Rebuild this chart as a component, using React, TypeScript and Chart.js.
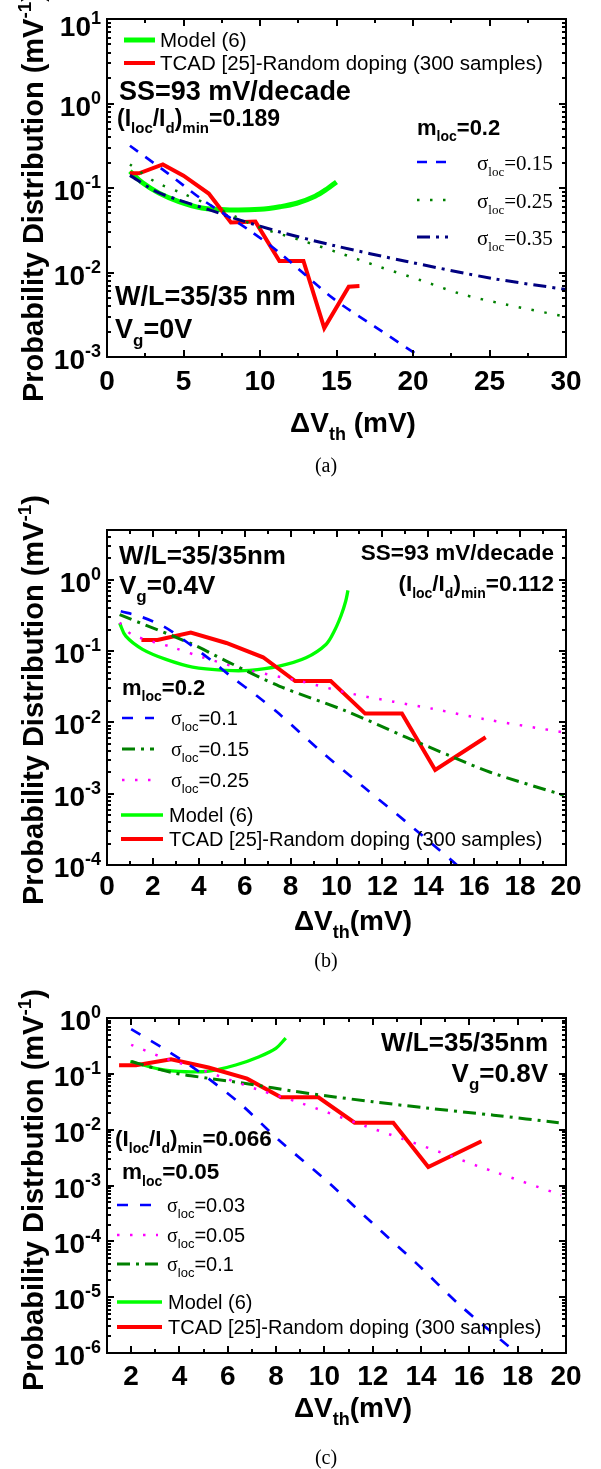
import React, { useEffect, useRef } from 'react';
import { Chart, registerables } from 'chart.js';
Chart.register(...registerables);

// ---------------- DATA ----------------
// Panel (a)
const tcadAX = [1.5, 2.1, 3.65, 5.0, 6.65, 8.1, 9.7, 11.27, 12.84, 14.2, 15.8, 16.5];
const tcadAY = [0.149, 0.149, 0.19, 0.14, 0.086, 0.039, 0.04, 0.0137, 0.0137, 0.0022, 0.0068, 0.0069];
const modelAX = [1.5, 2.3, 3.4, 4.7, 6.2, 8.2, 10.0, 11.3, 12.4, 13.6, 14.4, 15.0];
const modelAY = [0.158, 0.116, 0.087, 0.069, 0.058, 0.055, 0.056, 0.06, 0.066, 0.08, 0.098, 0.118];
const sigA015X = [1.5, 4.0, 6.25, 9.3, 11.3, 14.8, 17.5, 20.5, 21.5];
const sigA015Y = [0.316, 0.148, 0.0724, 0.0316, 0.017, 0.0049, 0.00229, 0.001, 0.00076];
const sigA025X = [1.5, 3.2, 4.9, 6.7, 8.4, 10.0, 12.6, 15.2, 17.8, 20.5, 23.1, 26.0, 30.0];
const sigA025Y = [0.19, 0.117, 0.087, 0.063, 0.0457, 0.0339, 0.0243, 0.017, 0.0117, 0.0081, 0.0056, 0.0042, 0.003];
const sigA035X = [1.5, 3.2, 4.7, 6.7, 8.7, 11.3, 14.8, 19.6, 25.2, 30.0];
const sigA035Y = [0.141, 0.091, 0.072, 0.055, 0.0417, 0.0302, 0.0209, 0.0135, 0.0085, 0.0063];

// Panels (b) and (c) TCAD
const tcadX = [1.5, 2.2, 3.65, 5.2, 6.8, 8.2, 9.75, 11.25, 12.85, 14.3, 16.5];
const tcadY = [0.143, 0.143, 0.182, 0.13, 0.082, 0.038, 0.038, 0.0133, 0.0133, 0.00215, 0.0062];

// Panel (b)
const modelBX = [0.55, 0.82, 1.55, 2.57, 3.73, 5.18, 6.2, 7.5, 8.67, 9.54, 9.9, 10.2, 10.4, 10.5];
const modelBY = [0.248, 0.162, 0.106, 0.0766, 0.0598, 0.0537, 0.0537, 0.0617, 0.0807, 0.124, 0.19, 0.316, 0.5, 0.71];
const sigB01X = [0.6, 1.5, 2.5, 3.5, 4.5, 5.5, 6.5, 7.5, 9.3, 11.2, 13.05, 15.0, 15.6];
const sigB01Y = [0.363, 0.302, 0.219, 0.132, 0.0759, 0.0417, 0.024, 0.0132, 0.00398, 0.00123, 0.000398, 0.000117, 0.0000794];
const sigB015X = [0.55, 3.7, 5.2, 7.5, 10.4, 13.05, 15.1, 16.7, 19.9];
const sigB015Y = [0.324, 0.126, 0.0724, 0.0324, 0.0145, 0.00617, 0.00324, 0.002, 0.00095];
const sigB025X = [0.55, 1.1, 2.9, 4.2, 6.05, 8.4, 10.7, 12.5, 14.2, 16.4, 19.9];
const sigB025Y = [0.251, 0.17, 0.112, 0.0813, 0.055, 0.038, 0.0251, 0.0195, 0.0155, 0.0112, 0.00724];

// Panel (c)
const modelCX = [1.96, 3.16, 4.26, 5.23, 6.33, 7.3, 7.99, 8.4];
const modelCY = [0.166, 0.122, 0.109, 0.112, 0.144, 0.203, 0.286, 0.436];
const sigC003X = [2.0, 3.2, 4.8, 6.5, 8.1, 10.2, 12.0, 13.8, 15.6, 17.65];
const sigC003Y = [0.631, 0.309, 0.11, 0.0295, 0.0066, 0.0011, 0.000209, 0.0000407, 0.00000724, 0.00000129];
const sigC005X = [2.0, 3.4, 4.7, 7.3, 9.0, 11.6, 13.2, 14.9, 16.4, 17.0, 19.8];
const sigC005Y = [0.331, 0.19, 0.126, 0.0513, 0.0302, 0.012, 0.00692, 0.0038, 0.00219, 0.00178, 0.000676];
const sigC01X = [2.0, 3.7, 5.2, 7.0, 8.7, 10.2, 12.0, 14.2, 17.0, 19.7];
const sigC01Y = [0.166, 0.105, 0.0832, 0.0646, 0.049, 0.0398, 0.0316, 0.0245, 0.0182, 0.0133];

// Tick labels
const xTicksA = [0, 5, 10, 15, 20, 25, 30];
const xTicksB = [0, 2, 4, 6, 8, 10, 12, 14, 16, 18, 20];
const xTicksC = [2, 4, 6, 8, 10, 12, 14, 16, 18, 20];
const yExpA = [1, 0, -1, -2, -3];
const yExpB = [0, -1, -2, -3, -4];
const yExpC = [0, -1, -2, -3, -4, -5, -6];

// ---------------- STYLES ----------------
const SANS = "'Liberation Sans', Arial, sans-serif";
const SERIF = "'Liberation Serif', 'Times New Roman', serif";
type Sty = { color: string; width: number; dash: number[]; tension: number };
const S_TCAD: Sty = { color: '#ff0000', width: 4, dash: [], tension: 0 };
const S_MODEL_A: Sty = { color: '#00ff00', width: 5, dash: [], tension: 0.35 };
const S_MODEL: Sty = { color: '#00ff00', width: 3.3, dash: [], tension: 0.35 };
const S_DASH_BLUE: Sty = { color: '#0000ff', width: 2.7, dash: [10, 9], tension: 0.3 };
const S_DASH_BLUE2: Sty = { color: '#0000ff', width: 2.7, dash: [11, 12], tension: 0.3 };
const S_DOT_GREEN: Sty = { color: '#008000', width: 2.5, dash: [2.5, 10.5], tension: 0.3 };
const S_DOT_MAG: Sty = { color: '#ff00ff', width: 2.5, dash: [2.5, 10.5], tension: 0.3 };
const S_DD_NAVY: Sty = { color: '#000080', width: 3, dash: [13, 6, 3, 6], tension: 0.3 };
const S_DD_GREEN: Sty = { color: '#008000', width: 3, dash: [13, 6, 3, 6], tension: 0.3 };

// ---------------- RICH TEXT ----------------
type Seg = { t: string; k: 'n' | 'sub' | 'sup' | 'serif' };
function parseRich(s: string): Seg[] {
  const segs: Seg[] = [];
  let i = 0;
  let buf = '';
  while (i < s.length) {
    const c = s[i];
    if ((c === '_' || c === '^' || c === '~') && s[i + 1] === '{') {
      if (buf) { segs.push({ t: buf, k: 'n' }); buf = ''; }
      const end = s.indexOf('}', i + 2);
      segs.push({ t: s.slice(i + 2, end), k: c === '_' ? 'sub' : c === '^' ? 'sup' : 'serif' });
      i = end + 1;
    } else { buf += c; i++; }
  }
  if (buf) segs.push({ t: buf, k: 'n' });
  return segs;
}
type TOpt = { size: number; bold?: boolean; family?: string; align?: 'left' | 'right' | 'center'; color?: string; sx?: number };
function drawRich(ctx: CanvasRenderingContext2D, s: string, x: number, cy: number, o: TOpt) {
  const segs = parseRich(s);
  const fam = o.family || SANS;
  const w = o.bold ? 'bold ' : '';
  const sx = o.sx || 1;
  const fontFor = (k: string) => {
    if (k === 'serif') return `${o.size}px ${SERIF}`;
    return `${w}${k === 'n' ? o.size : Math.round(o.size * 0.64)}px ${fam}`;
  };
  const widths: number[] = [];
  let total = 0;
  for (const seg of segs) {
    ctx.font = fontFor(seg.k);
    const m = ctx.measureText(seg.t).width;
    widths.push(m);
    total += m;
  }
  total *= sx;
  const align = o.align || 'left';
  let x0 = align === 'left' ? x : align === 'right' ? x - total : x - total / 2;
  const base = cy + 0.358 * o.size;
  ctx.save();
  ctx.fillStyle = o.color || '#000';
  ctx.textBaseline = 'alphabetic';
  ctx.textAlign = 'left';
  segs.forEach((seg, i) => {
    ctx.font = fontFor(seg.k);
    const dy = seg.k === 'sub' ? 0.3 * o.size : seg.k === 'sup' ? -0.42 * o.size : 0;
    ctx.save();
    ctx.translate(x0, base + dy);
    ctx.scale(sx, 1);
    ctx.fillText(seg.t, 0, 0);
    ctx.restore();
    x0 += widths[i] * sx;
  });
  ctx.restore();
}

// ---------------- PANELS ----------------
type Series = { xs: number[]; ys: number[]; sty: Sty };
type Ann = { s: string; x: number; y: number; size: number; bold?: boolean; align?: 'left' | 'right' | 'center'; family?: string };
type Leg = { x1: number; x2: number; y: number; sty: Sty; s: string; tx: number; size: number; family?: string };
type PanelCfg = {
  top: number; height: number;
  area: { left: number; right: number; top: number; bottom: number };
  xr: { min: number; max: number; major: number; minor: number };
  yr: { min: number; max: number };
  xTicks: number[]; yExp: number[];
  xLabelY: number; xTitle: string; xTitleY: number; yTitle: string; yTitleY: number;
  caption: string; captionY: number;
  series: Series[]; anns: Ann[]; legs: Leg[];
  topLabelY?: number;
};

const panelA: PanelCfg = {
  top: 0, height: 480,
  area: { left: 107, right: 566, top: 19, bottom: 357 },
  xr: { min: 0, max: 30, major: 5, minor: 2.5 },
  yr: { min: 1e-3, max: 10 },
  xTicks: xTicksA, yExp: yExpA,
  xLabelY: 380, xTitle: 'ΔV_{th} (mV)', xTitleY: 422,
  yTitle: 'Probability Distribution (mV^{-1})', yTitleY: 197,
  caption: '(a)', captionY: 465, topLabelY: 26,
  series: [
    { xs: sigA015X, ys: sigA015Y, sty: S_DASH_BLUE },
    { xs: sigA025X, ys: sigA025Y, sty: S_DOT_GREEN },
    { xs: sigA035X, ys: sigA035Y, sty: S_DD_NAVY },
    { xs: tcadAX, ys: tcadAY, sty: S_TCAD },
    { xs: modelAX, ys: modelAY, sty: S_MODEL_A },
  ],
  anns: [
    { s: 'SS=93 mV/decade', x: 119, y: 90, size: 27, bold: true },
    { s: '(I_{loc}/I_{d})_{min}=0.189', x: 117, y: 118, size: 23, bold: true },
    { s: 'm_{loc}=0.2', x: 417, y: 127, size: 22, bold: true },
    { s: 'W/L=35/35 nm', x: 115, y: 295, size: 27, bold: true },
    { s: 'V_{g}=0V', x: 115, y: 328, size: 27, bold: true },
  ],
  legs: [
    { x1: 124, x2: 155, y: 40, sty: S_MODEL_A, s: 'Model (6)', tx: 160, size: 20.5 },
    { x1: 124, x2: 155, y: 63, sty: S_TCAD, s: 'TCAD [25]-Random doping (300 samples)', tx: 160, size: 20.5 },
    { x1: 417, x2: 448, y: 162, sty: S_DASH_BLUE, s: 'σ_{loc}=0.15', tx: 477, size: 21, family: SERIF },
    { x1: 417, x2: 448, y: 200, sty: S_DOT_GREEN, s: 'σ_{loc}=0.25', tx: 477, size: 21, family: SERIF },
    { x1: 417, x2: 448, y: 237, sty: S_DD_NAVY, s: 'σ_{loc}=0.35', tx: 477, size: 21, family: SERIF },
  ],
};

const panelB: PanelCfg = {
  top: 480, height: 495,
  area: { left: 107, right: 566, top: 50, bottom: 385 },
  xr: { min: 0, max: 20, major: 2, minor: 1 },
  yr: { min: 1e-4, max: 5 },
  xTicks: xTicksB, yExp: yExpB,
  xLabelY: 405, xTitle: 'ΔV_{th}(mV)', xTitleY: 440,
  yTitle: 'Probability Distribution (mV^{-1})', yTitleY: 220,
  caption: '(b)', captionY: 480,
  series: [
    { xs: sigB01X, ys: sigB01Y, sty: S_DASH_BLUE2 },
    { xs: sigB015X, ys: sigB015Y, sty: S_DD_GREEN },
    { xs: sigB025X, ys: sigB025Y, sty: S_DOT_MAG },
    { xs: tcadX, ys: tcadY, sty: S_TCAD },
    { xs: modelBX, ys: modelBY, sty: S_MODEL },
  ],
  anns: [
    { s: 'W/L=35/35nm', x: 119, y: 75, size: 26, bold: true },
    { s: 'V_{g}=0.4V', x: 119, y: 105, size: 26, bold: true },
    { s: 'SS=93 mV/decade', x: 554, y: 72, size: 22.5, bold: true, align: 'right' },
    { s: '(I_{loc}/I_{d})_{min}=0.112', x: 554, y: 103, size: 22.5, bold: true, align: 'right' },
    { s: 'm_{loc}=0.2', x: 122, y: 207, size: 22, bold: true },
  ],
  legs: [
    { x1: 122, x2: 154, y: 238, sty: S_DASH_BLUE2, s: '~{σ}_{loc}=0.1', tx: 171, size: 20 },
    { x1: 122, x2: 154, y: 269, sty: S_DD_GREEN, s: '~{σ}_{loc}=0.15', tx: 171, size: 20 },
    { x1: 122, x2: 154, y: 300, sty: S_DOT_MAG, s: '~{σ}_{loc}=0.25', tx: 171, size: 20 },
    { x1: 121, x2: 163, y: 335, sty: S_MODEL, s: 'Model (6)', tx: 169, size: 20 },
    { x1: 121, x2: 163, y: 359, sty: S_TCAD, s: 'TCAD [25]-Random doping (300 samples)', tx: 169, size: 20 },
  ],
};

const panelC: PanelCfg = {
  top: 975, height: 494,
  area: { left: 107, right: 566, top: 43, bottom: 378 },
  xr: { min: 1, max: 20, major: 2, minor: 1 },
  yr: { min: 1e-6, max: 1 },
  xTicks: xTicksC, yExp: yExpC,
  xLabelY: 400, xTitle: 'ΔV_{th}(mV)', xTitleY: 432,
  yTitle: 'Probability Distrbution (mV^{-1})', yTitleY: 215,
  caption: '(c)', captionY: 482,
  series: [
    { xs: sigC003X, ys: sigC003Y, sty: S_DASH_BLUE2 },
    { xs: sigC005X, ys: sigC005Y, sty: S_DOT_MAG },
    { xs: sigC01X, ys: sigC01Y, sty: S_DD_GREEN },
    { xs: tcadX, ys: tcadY, sty: S_TCAD },
    { xs: modelCX, ys: modelCY, sty: S_MODEL },
  ],
  anns: [
    { s: 'W/L=35/35nm', x: 548, y: 67, size: 26, bold: true, align: 'right' },
    { s: 'V_{g}=0.8V', x: 548, y: 98, size: 26, bold: true, align: 'right' },
    { s: '(I_{loc}/I_{d})_{min}=0.066', x: 115, y: 163, size: 22.5, bold: true },
    { s: 'm_{loc}=0.05', x: 122, y: 196, size: 22.5, bold: true },
  ],
  legs: [
    { x1: 117, x2: 158, y: 230, sty: S_DASH_BLUE2, s: '~{σ}_{loc}=0.03', tx: 167, size: 20 },
    { x1: 117, x2: 158, y: 260, sty: S_DOT_MAG, s: '~{σ}_{loc}=0.05', tx: 167, size: 20 },
    { x1: 117, x2: 158, y: 289, sty: S_DD_GREEN, s: '~{σ}_{loc}=0.1', tx: 167, size: 20 },
    { x1: 117, x2: 162, y: 327, sty: S_MODEL, s: 'Model (6)', tx: 168, size: 20 },
    { x1: 117, x2: 162, y: 352, sty: S_TCAD, s: 'TCAD [25]-Random doping (300 samples)', tx: 168, size: 20 },
  ],
};

const panels = [panelA, panelB, panelC];

function drawDecor(chart: any, P: PanelCfg) {
  const ctx: CanvasRenderingContext2D = chart.ctx;
  const { left, right, top, bottom } = chart.chartArea;
  const xs = chart.scales.x;
  const ys = chart.scales.y;
  ctx.save();
  ctx.setLineDash([]);
  ctx.strokeStyle = '#000';
  ctx.lineWidth = 2;
  ctx.beginPath();
  const nx = Math.round((P.xr.max - P.xr.min) / P.xr.minor);
  for (let i = 0; i <= nx; i++) {
    const v = P.xr.min + i * P.xr.minor;
    const r = v / P.xr.major;
    const major = Math.abs(r - Math.round(r)) < 1e-6;
    const px = Math.round(xs.getPixelForValue(v));
    const L = major ? 7 : 4;
    ctx.moveTo(px, bottom); ctx.lineTo(px, bottom - L);
    ctx.moveTo(px, top); ctx.lineTo(px, top + L);
  }
  const k0 = Math.floor(Math.log10(P.yr.min));
  const k1 = Math.ceil(Math.log10(P.yr.max));
  for (let k = k0; k <= k1; k++) {
    for (let m = 1; m <= 9; m++) {
      const v = m * Math.pow(10, k);
      if (v < P.yr.min * 0.999 || v > P.yr.max * 1.001) continue;
      const py = Math.round(ys.getPixelForValue(v));
      const L = m === 1 ? 7 : 4;
      ctx.moveTo(left, py); ctx.lineTo(left + L, py);
      ctx.moveTo(right, py); ctx.lineTo(right - L, py);
    }
  }
  ctx.stroke();
  ctx.strokeRect(left, top, right - left, bottom - top);
  ctx.restore();

  // tick labels
  for (const t of P.xTicks) {
    drawRich(ctx, String(t), xs.getPixelForValue(t), P.xLabelY, { size: 28, bold: true, align: 'center' });
  }
  P.yExp.forEach((e, i) => {
    let cy = ys.getPixelForValue(Math.pow(10, e)) + 2;
    if (i === 0 && P.topLabelY !== undefined) cy = P.topLabelY;
    drawRich(ctx, `10^{${e}}`, 101, cy, { size: 28, bold: true, align: 'right' });
  });
  // titles
  drawRich(ctx, P.xTitle, 353, P.xTitleY, { size: 28, bold: true, align: 'center' });
  ctx.save();
  ctx.translate(32.5, P.yTitleY);
  ctx.rotate(-Math.PI / 2);
  drawRich(ctx, P.yTitle, 0, 0, { size: 29, bold: true, align: 'center' });
  ctx.restore();
  drawRich(ctx, P.caption, 326, P.captionY, { size: 20, family: SERIF, align: 'center' });

  // annotations
  for (const a of P.anns) {
    drawRich(ctx, a.s, a.x, a.y, { size: a.size, bold: a.bold, align: a.align, family: a.family });
  }
  // legends
  for (const l of P.legs) {
    ctx.save();
    ctx.strokeStyle = l.sty.color;
    ctx.lineWidth = l.sty.width;
    ctx.setLineDash(l.sty.dash);
    ctx.lineCap = 'butt';
    ctx.beginPath();
    ctx.moveTo(l.x1, l.y);
    ctx.lineTo(l.x2, l.y);
    ctx.stroke();
    ctx.restore();
    drawRich(ctx, l.s, l.tx, l.y, { size: l.size, family: l.family });
  }
}

function Panel({ P }: { P: PanelCfg }) {
  const ref = useRef<HTMLCanvasElement>(null);
  useEffect(() => {
    const canvas = ref.current!;
    const chart = new Chart(canvas, {
      type: 'line',
      data: {
        datasets: P.series.map((s) => ({
          data: s.xs.map((x, i) => ({ x, y: s.ys[i] })),
          borderColor: s.sty.color,
          borderWidth: s.sty.width,
          borderDash: s.sty.dash,
          tension: s.sty.tension,
          borderCapStyle: 'butt',
          pointRadius: 0,
          fill: false,
        })),
      },
      options: {
        responsive: false,
        animation: false,
        devicePixelRatio: 1,
        layout: {
          padding: {
            left: P.area.left,
            right: 601 - P.area.right,
            top: P.area.top,
            bottom: P.height - P.area.bottom,
          },
        },
        plugins: { legend: { display: false }, tooltip: { enabled: false } },
        scales: {
          x: { type: 'linear', min: P.xr.min, max: P.xr.max, display: false },
          y: { type: 'logarithmic', min: P.yr.min, max: P.yr.max, display: false },
        },
      },
      plugins: [{ id: 'decor', afterDraw: (c: any) => drawDecor(c, P) }],
    } as any);
    return () => chart.destroy();
  }, []);
  return (
    <div style={{ position: 'absolute', left: 0, top: P.top, width: 601, height: P.height }}>
      <canvas ref={ref} width={601} height={P.height} style={{ display: 'block' }} />
    </div>
  );
}

export default function App() {
  return (
    <div style={{ position: 'absolute', left: 0, top: 0, width: 601, height: 1469, background: '#fff' }}>
      {panels.map((P, i) => <Panel key={i} P={P} />)}
    </div>
  );
}
